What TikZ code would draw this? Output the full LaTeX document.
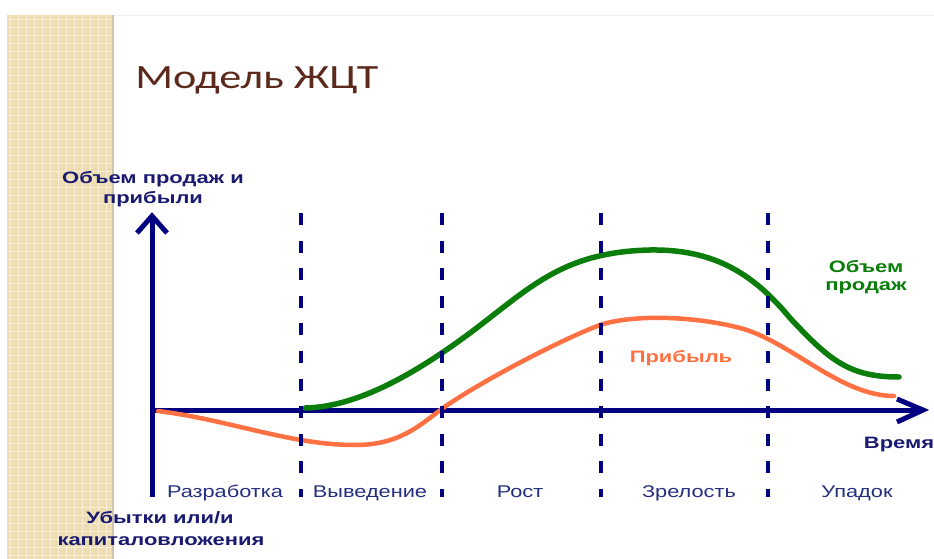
\documentclass[tikz,border=0pt]{standalone}
\usepackage{fontspec}
\setmainfont{Liberation Sans}
\newfontfamily\titlefont{Carlito}
\definecolor{stripbg}{HTML}{EDDDB0}
\definecolor{stripgrid}{HTML}{F8EFD6}
\definecolor{stripshadow}{HTML}{CFC5AA}
\definecolor{axisnavy}{HTML}{000080}
\definecolor{labnavy}{HTML}{1A1A70}
\definecolor{stagenavy}{HTML}{24307F}
\definecolor{salesgreen}{HTML}{0A7D0A}
\definecolor{profitorange}{HTML}{FF7142}
\definecolor{titlebrown}{HTML}{5C2A1C}
\tikzset{
  axisline/.style={axisnavy, line width=5pt},
  tipline/.style={axisnavy, line width=5pt, line join=miter, line cap=butt},
  phase/.style={axisnavy, line width=4pt, dash pattern=on 12pt off 15.6pt},
  boldlab/.style={font=\fontsize{16.5}{19}\selectfont\bfseries, text=labnavy, inner sep=0pt, anchor=base, xscale=1.33},
  stagelab/.style={font=\fontsize{17}{19}\selectfont, text=stagenavy, inner sep=0pt, anchor=base, xscale=1.28},
  salescurve/.style={salesgreen, line width=5.5pt, line cap=round},
  profitcurve/.style={profitorange, line width=4.5pt, line cap=round},
}
\begin{document}
\begin{tikzpicture}[x=1pt,y=-1pt]
\useasboundingbox (0,0) rectangle (934,559);
\fill[white] (0,0) rectangle (934,559);
% faint top rule
\draw[black!6, line width=0.8pt] (114,15) -- (934,15);
% textured strip
\fill[stripbg] (7,15) rectangle (114,559);
\begin{scope}
  \clip (7,15) rectangle (112,559);
  \foreach \x in {10,18,...,114} \draw[stripgrid, line width=0.9pt] (\x,15) -- (\x,559);
  \foreach \y in {19,27,...,559} \draw[stripgrid, line width=0.9pt] (7,\y) -- (114,\y);
\end{scope}
\fill[stripshadow] (111.5,15) rectangle (114,559);

% title
\node[font=\fontsize{34}{40}\selectfont\titlefont, text=titlebrown, inner sep=0pt, anchor=base west, xscale=1.3] (title) at (135,89) {Модель ЖЦТ};

% axes
\coordinate (origin) at (152,410);
\coordinate (ybottom) at (152,497);
\coordinate (ytip) at (152,216);
\coordinate (xtip) at (923,410);
\coordinate (yl) at (137,233);
\coordinate (yr) at (167,233);
\coordinate (xu) at (897,399);
\coordinate (xd) at (897,422);
\draw[axisline] (ybottom) -- (ytip);
\draw[axisline] (origin) -- (xtip);
\draw[tipline] (yl) -- (ytip) -- (yr);
\draw[tipline] (xu) -- (xtip) -- (xd);

% curves
\draw[salescurve] (305,408) .. controls (360,407) and (420,370) .. (470,333)
  .. controls (530,288) and (562,252) .. (650,250)
  .. controls (712,249) and (752,272) .. (790,318)
  .. controls (830,361) and (850,377) .. (899,377);
\draw[profitcurve] (158,411) .. controls (230,420) and (290,445) .. (355,445)
  .. controls (400,445) and (420,425) .. (443,408)
  .. controls (480,382) and (560,340) .. (600,325)
  .. controls (630,315) and (690,315) .. (740,328)
  .. controls (790,341) and (840,396) .. (894,396);

% phase boundaries
\foreach \x/\n in {301/p1, 442/p2, 601/p3, 768/p4} {
  \coordinate (\n top) at (\x,213);
  \coordinate (\n bot) at (\x,497);
  \draw[phase] (\n top) -- (\n bot);
}

% labels
\node[boldlab] (ylab1) at (153,183) {Объем продаж и};
\node[boldlab] (ylab2) at (153,203) {прибыли};
\node[boldlab] (neg1) at (160,523) {Убытки или/и};
\node[boldlab] (neg2) at (161,545) {капиталовложения};
\node[boldlab] (time) at (899,448) {Время};
\node[boldlab, text=salesgreen] (sales1) at (866,272) {Объем};
\node[boldlab, text=salesgreen] (sales2) at (866,290) {продаж};
\node[boldlab, text=profitorange] (profit) at (681,362) {Прибыль};

\node[stagelab] (s1) at (225,497) {Разработка};
\node[stagelab] (s2) at (370,497) {Выведение};
\node[stagelab] (s3) at (520,497) {Рост};
\node[stagelab] (s4) at (689,497) {Зрелость};
\node[stagelab] (s5) at (857,497) {Упадок};
\end{tikzpicture}
\end{document}
